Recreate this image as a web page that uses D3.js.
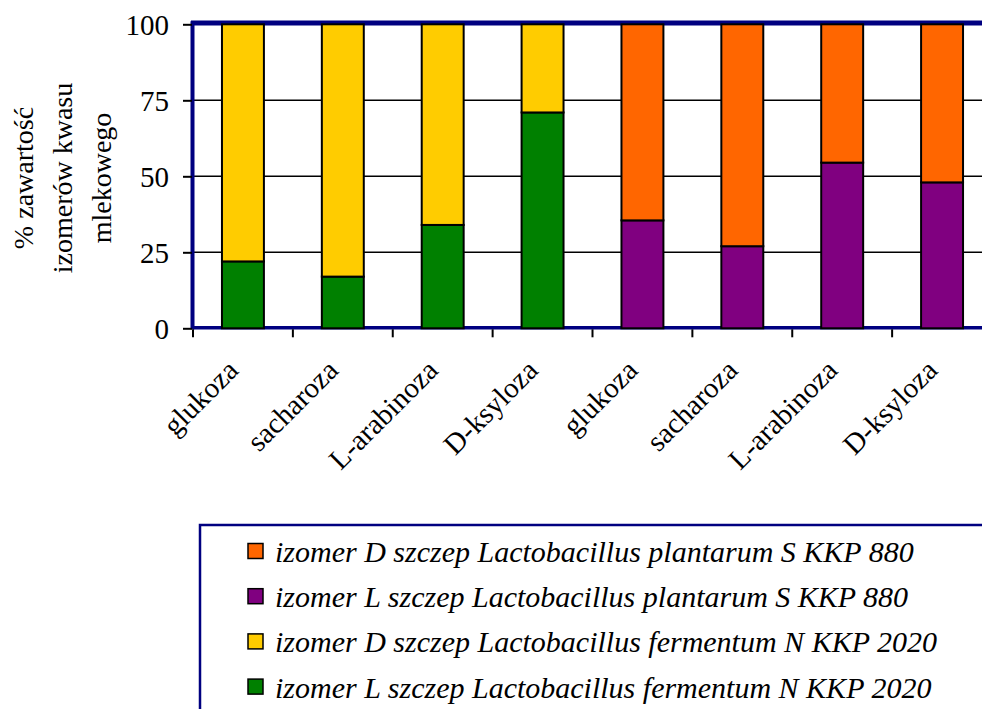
<!DOCTYPE html>
<html><head><meta charset="utf-8">
<script src="https://cdn.jsdelivr.net/npm/d3@7"></script>
<style>body{margin:0;background:#fff;} svg{display:block;}</style>
</head><body>
<script>
const categories = ["glukoza","sacharoza","L-arabinoza","D-ksyloza","glukoza","sacharoza","L-arabinoza","D-ksyloza"];
const lFermentum = [22, 17, 34, 71, 0, 0, 0, 0];
const dFermentum = [78, 83, 66, 29, 0, 0, 0, 0];
const lPlantarum = [0, 0, 0, 0, 35.5, 27, 54.5, 48];
const dPlantarum = [0, 0, 0, 0, 64.5, 73, 45.5, 52];
const yTicks = [0, 25, 50, 75, 100];
const seriesNames = {
  dPlant: "izomer D szczep Lactobacillus plantarum S KKP 880",
  lPlant: "izomer L szczep Lactobacillus plantarum S KKP 880",
  dFerm: "izomer D szczep Lactobacillus fermentum N KKP 2020",
  lFerm: "izomer L szczep Lactobacillus fermentum N KKP 2020"
};
const colors = {lFerm:"#008000", dFerm:"#FFCC00", lPlant:"#800080", dPlant:"#FF6600"};
const legendOrder = ["dPlant","lPlant","dFerm","lFerm"];
const stackKeys = ["lFerm","dFerm","lPlant","dPlant"];

const W = 982, H = 709;
const svg = d3.select("body").append("svg").attr("width", W).attr("height", H);
const navy = "#000080";
const serif = "'Liberation Serif','Times New Roman',serif";

const plot = {left: 193, right: 992, top: 24.3, bottom: 328.3};
const x = d3.scaleBand().domain(d3.range(categories.length)).range([plot.left, plot.right]).paddingInner(0.58).paddingOuter(0.29);
const y = d3.scaleLinear().domain([0, 100]).range([plot.bottom, plot.top]);

const table = categories.map((c, i) => ({i, lFerm: lFermentum[i], dFerm: dFermentum[i], lPlant: lPlantarum[i], dPlant: dPlantarum[i]}));
const stacked = d3.stack().keys(stackKeys)(table);

// gridlines
svg.append("g").selectAll("line").data([25, 50, 75]).join("line")
  .attr("x1", plot.left).attr("x2", W + 20)
  .attr("y1", d => y(d)).attr("y2", d => y(d))
  .attr("stroke", "#000").attr("stroke-width", 1.5);

// plot border (navy)
svg.append("line").attr("x1", plot.left - 2).attr("x2", W + 20).attr("y1", y(100) - 1.2).attr("y2", y(100) - 1.2).attr("stroke", navy).attr("stroke-width", 5);
svg.append("line").attr("x1", plot.left).attr("x2", W + 20).attr("y1", y(0) - 0.5).attr("y2", y(0) - 0.5).attr("stroke", navy).attr("stroke-width", 3.5);
svg.append("line").attr("x1", plot.left - 0.5).attr("x2", plot.left - 0.5).attr("y1", y(100) - 3).attr("y2", y(0) + 1).attr("stroke", navy).attr("stroke-width", 4);

// bars
svg.append("g").selectAll("g").data(stacked).join("g")
  .attr("fill", d => colors[d.key])
  .selectAll("rect").data(d => d.filter(s => s[1] - s[0] > 0)).join("rect")
  .attr("x", d => x(d.data.i))
  .attr("width", x.bandwidth())
  .attr("y", d => y(d[1]))
  .attr("height", d => y(d[0]) - y(d[1]))
  .attr("stroke", "#000").attr("stroke-width", 2);

// y axis ticks and labels
const yAxis = d3.axisLeft(y).tickValues(yTicks).tickSize(9).tickPadding(14);
const yg = svg.append("g").attr("transform", `translate(${plot.left - 1},0)`).call(yAxis);
yg.select(".domain").remove();
yg.selectAll(".tick line").attr("stroke", "#000").attr("stroke-width", 2);
yg.selectAll(".tick text").attr("font-family", serif).attr("font-size", 29).attr("fill", "#000").attr("dy", "0.34em");

// x axis ticks at boundaries
const bounds = d3.range(categories.length + 1).map(i => plot.left + i * x.step());
svg.append("g").selectAll("line").data(bounds).join("line")
  .attr("x1", d => d).attr("x2", d => d)
  .attr("y1", y(0) + 1).attr("y2", y(0) + 9)
  .attr("stroke", "#000").attr("stroke-width", 2);

// x labels
svg.append("g").selectAll("text").data(categories).join("text")
  .attr("transform", (d, i) => `translate(${x(i) + x.bandwidth() / 2 - 3},${372}) rotate(-45)`)
  .attr("text-anchor", "end")
  .attr("font-family", serif).attr("font-size", 29).attr("fill", "#000")
  .text(d => d);

// y title
const titleLines = [["% zawartość", 33], ["izomerów kwasu", 72], ["mlekowego", 111]];
svg.append("g").selectAll("text").data(titleLines).join("text")
  .attr("transform", d => `translate(${d[1]},${178}) rotate(-90)`)
  .attr("text-anchor", "middle")
  .attr("font-family", serif).attr("font-size", 28).attr("fill", "#000")
  .text(d => d[0]);

// legend
const lg = svg.append("g");
lg.append("rect").attr("x", 200).attr("y", 525).attr("width", 900).attr("height", 300)
  .attr("fill", "none").attr("stroke", navy).attr("stroke-width", 2.5);
const rows = lg.selectAll("g.row").data(legendOrder).join("g").attr("class", "row")
  .attr("transform", (d, i) => `translate(248,${551 + i * 45.2})`);
rows.append("rect").attr("x", 0).attr("y", -7.5).attr("width", 15).attr("height", 15)
  .attr("fill", d => colors[d]).attr("stroke", "#000").attr("stroke-width", 1.5);
rows.append("text").attr("x", 27).attr("y", 11)
  .attr("font-family", serif).attr("font-style", "italic").attr("font-size", 30).attr("fill", "#000")
  .text(d => seriesNames[d]);
</script>
</body></html>
